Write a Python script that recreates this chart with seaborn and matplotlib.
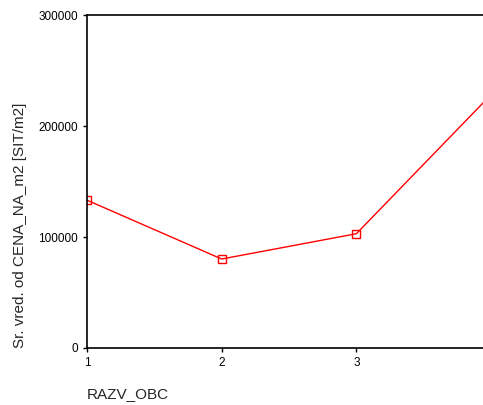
# line chart: average price per m2 by RAZV_OBC

import pandas as pd
import seaborn as sns
import matplotlib.pyplot as plt

razv_obc = [1, 2, 3, 4]
cena_na_m2 = [133300, 80200, 103000, 228500]

df = pd.DataFrame({'RAZV_OBC': razv_obc, 'CENA_NA_m2': cena_na_m2})

sns.set_style('ticks')
plt.rcParams['font.family'] = ['Liberation Sans', 'DejaVu Sans']

fig = plt.figure(figsize=(4.83, 4.05), dpi=100)
ax = fig.add_axes([0.180, 0.141, 0.82, 0.821])

sns.lineplot(data=df, x='RAZV_OBC', y='CENA_NA_m2', ax=ax, color='#ff0000',
             linewidth=1, marker='s', markersize=6, markerfacecolor='none',
             markeredgecolor='#ff0000', markeredgewidth=1)

ax.set_xlim(1, 3.94)
ax.set_ylim(0, 300000)
ax.set_xticks([1, 2, 3])
ax.set_yticks([0, 100000, 200000, 300000])
ax.tick_params(labelsize=8.5, length=3, width=1, colors='black')
for s in ['left', 'bottom', 'top']:
    ax.spines[s].set_linewidth(1.2)
    ax.spines[s].set_color('black')
ax.spines['right'].set_visible(False)

ax.set_xlabel('RAZV_OBC', loc='left', fontsize=11, labelpad=13)
ax.set_ylabel('Sr. vred. od CENA_NA_m2 [SIT/m2]', loc='bottom', fontsize=11, labelpad=8)

fig.savefig('out.png', dpi=100)
